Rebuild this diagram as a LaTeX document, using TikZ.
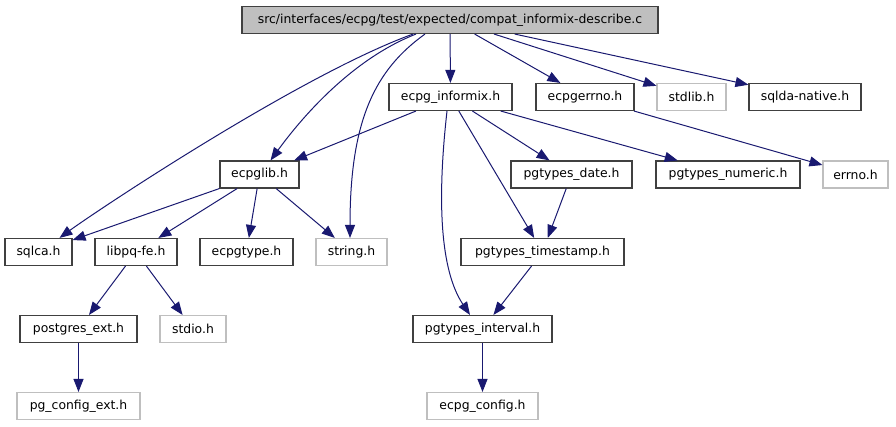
\documentclass[tikz,border=0pt]{standalone}
\usepackage{fontspec}
\setmainfont{DejaVu Sans}
\usetikzlibrary{arrows.meta}
\definecolor{edgec}{HTML}{191970}
\definecolor{darkb}{HTML}{404040}
\definecolor{lightb}{HTML}{BFBFBF}
\tikzset{
  filebox/.style={draw=darkb, line width=1.1pt, fill=white, inner sep=0pt, minimum height=27pt, font=\fontsize{12.4}{14}\selectfont},
  extbox/.style={filebox, draw=lightb},
  rootbox/.style={filebox, fill=lightb},
  edge/.style={draw=edgec, line width=1pt, -{Triangle[length=13pt,width=10pt]}},
}
\begin{document}
\begin{tikzpicture}[x=1pt,y=-1pt]
\useasboundingbox (0,0) rectangle (896,427);
\node[rootbox, minimum width=416pt] (root) at (450,20) {src/interfaces/ecpg/test/expected/compat\_informix-describe.c};
\node[filebox, minimum width=123pt] (informix) at (450.5,97) {ecpg\_informix.h};
\node[filebox, minimum width=98pt] (ecpgerrno) at (585,97) {ecpgerrno.h};
\node[extbox, minimum width=69pt] (stdlib) at (691.5,97) {stdlib.h};
\node[filebox, minimum width=112pt] (sqlda) at (805,97) {sqlda-native.h};
\node[filebox, minimum width=79pt] (ecpglib) at (259.5,174.5) {ecpglib.h};
\node[filebox, minimum width=121pt] (date) at (571.5,174.5) {pgtypes\_date.h};
\node[filebox, minimum width=144pt] (numeric) at (728,174.5) {pgtypes\_numeric.h};
\node[extbox, minimum width=65pt] (errno) at (855.5,174.5) {errno.h};
\node[filebox, minimum width=67pt] (sqlca) at (38.5,252) {sqlca.h};
\node[filebox, minimum width=82pt] (libpq) at (136,252) {libpq-fe.h};
\node[filebox, minimum width=93pt] (ecpgtype) at (246.5,252) {ecpgtype.h};
\node[extbox, minimum width=71pt] (string) at (351.5,252) {string.h};
\node[filebox, minimum width=163pt] (timestamp) at (542.5,252) {pgtypes\_timestamp.h};
\node[filebox, minimum width=117pt] (pgext) at (78.5,329) {postgres\_ext.h};
\node[extbox, minimum width=66pt] (stdio) at (193,329) {stdio.h};
\node[filebox, minimum width=139pt] (interval) at (482.5,329) {pgtypes\_interval.h};
\node[extbox, minimum width=123pt] (pgcfg) at (78.5,406) {pg\_config\_ext.h};
\node[extbox, minimum width=111pt] (ecpgcfg) at (482.5,406) {ecpg\_config.h};

% edges from root
\draw[edge] ([xshift=-37pt]root.south) .. controls (300,75) and (95,212) .. ([xshift=21pt]sqlca.north);
\draw[edge] ([xshift=-34pt]root.south) .. controls (350,60) and (300,120) .. ([xshift=11pt]ecpglib.north);
\draw[edge] ([xshift=-25pt]root.south) .. controls (375,70) and (350,120) .. ([xshift=-1.5pt]string.north);
\draw[edge] (root) -- (informix);
\draw[edge] (root) -- (ecpgerrno);
\draw[edge] (root) -- (stdlib);
\draw[edge] (root) -- (sqlda);
% from ecpg_informix
\draw[edge] (informix) -- (ecpglib);
\draw[edge] ([xshift=-3.5pt]informix.south) .. controls (437,200) and (440,270) .. ([xshift=-12.5pt]interval.north);
\draw[edge] (informix) -- (timestamp);
\draw[edge] (informix) -- (date);
\draw[edge] (informix) -- (numeric);
\draw[edge] (ecpgerrno) -- (errno);
% from ecpglib
\draw[edge] (ecpglib) -- (sqlca);
\draw[edge] (ecpglib) -- (libpq);
\draw[edge] (ecpglib) -- (ecpgtype);
\draw[edge] (ecpglib) -- (string);
% lower
\draw[edge] (libpq) -- (pgext);
\draw[edge] (libpq) -- (stdio);
\draw[edge] (pgext) -- (pgcfg);
\draw[edge] (date) -- (timestamp);
\draw[edge] (timestamp) -- (interval);
\draw[edge] (interval) -- (ecpgcfg);
\end{tikzpicture}
\end{document}
